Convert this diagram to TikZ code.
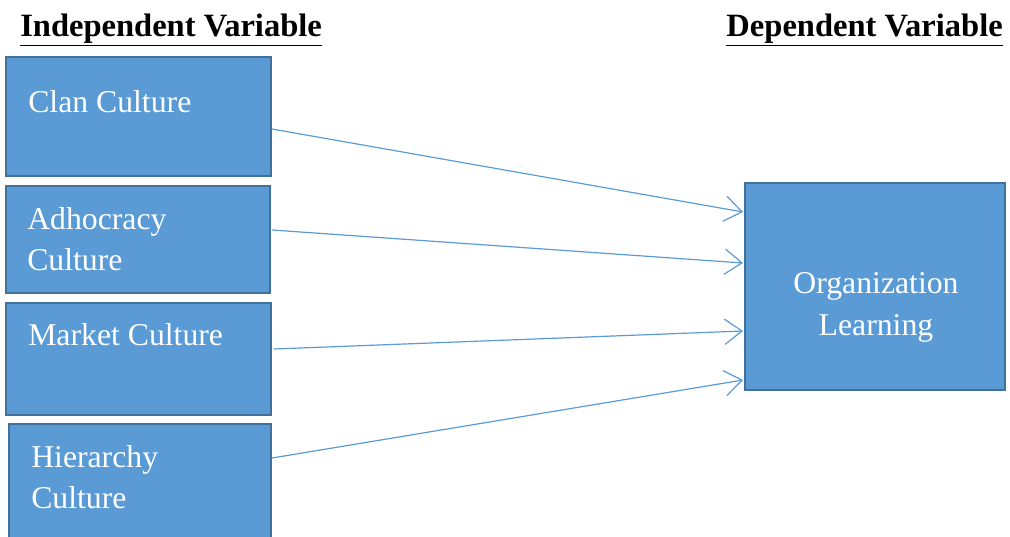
\documentclass[tikz,border=0pt]{standalone}
\usepackage{fontspec}
\setmainfont{Liberation Serif}
\usetikzlibrary{arrows.meta}
\definecolor{boxfill}{HTML}{5B9BD5}
\definecolor{boxline}{HTML}{41719C}
\definecolor{arrowc}{HTML}{5B9BD5}
\newcommand{\hdrul}[1]{\underline{#1}}
\begin{document}
\begin{tikzpicture}[x=0.75pt,y=-0.75pt,
  box/.style={draw=boxline,fill=boxfill,line width=1.6pt},
  lbl/.style={anchor=base west,inner sep=0pt,text=white,font=\fontsize{23.8}{30}\selectfont},
  hdr/.style={anchor=base west,inner sep=0pt,font=\fontsize{24.4}{30}\selectfont\bfseries},
  conn/.style={draw=arrowc,line width=0.9pt,-{Straight Barb[length=13pt,width=19pt,line width=0.9pt]}}]
\useasboundingbox (0,0) rectangle (1010,536);
\node[hdr] (h1) at (20,36) {\hdrul{Independent Variable}};
\node[hdr,anchor=base east] (h2) at (1003,36) {\hdrul{Dependent Variable}};
% boxes
\draw[box] (6,57) rectangle (271,176);
\coordinate (clan) at (272,129);
\draw[box] (6,186) rectangle (270,293);
\coordinate (adho) at (272,230);
\draw[box] (6,303) rectangle (271,415);
\coordinate (mark) at (274,349);
\draw[box] (9,424) rectangle (271,545);
\coordinate (hier) at (272,458);
\draw[box] (745,183) rectangle (1005,390);
\coordinate (o1) at (743,212);
\coordinate (o2) at (743,263);
\coordinate (o3) at (743,331);
\coordinate (o4) at (743,380);
% labels
\node[lbl] (t1) at (28,112) {Clan Culture};
\node[lbl] (t2) at (27,229) {Adhocracy};
\node[lbl] (t2b) at (27,270) {Culture};
\node[lbl] (t3) at (28,345) {Market Culture};
\node[lbl] (t4) at (31,467) {Hierarchy};
\node[lbl] (t4b) at (31,508) {Culture};
\node[lbl,anchor=base] (t5) at (876,293) {Organization};
\node[lbl,anchor=base] (t5b) at (876,335) {Learning};
% connectors
\draw[conn] (clan) -- (o1);
\draw[conn] (adho) -- (o2);
\draw[conn] (mark) -- (o3);
\draw[conn] (hier) -- (o4);
\end{tikzpicture}
\end{document}
